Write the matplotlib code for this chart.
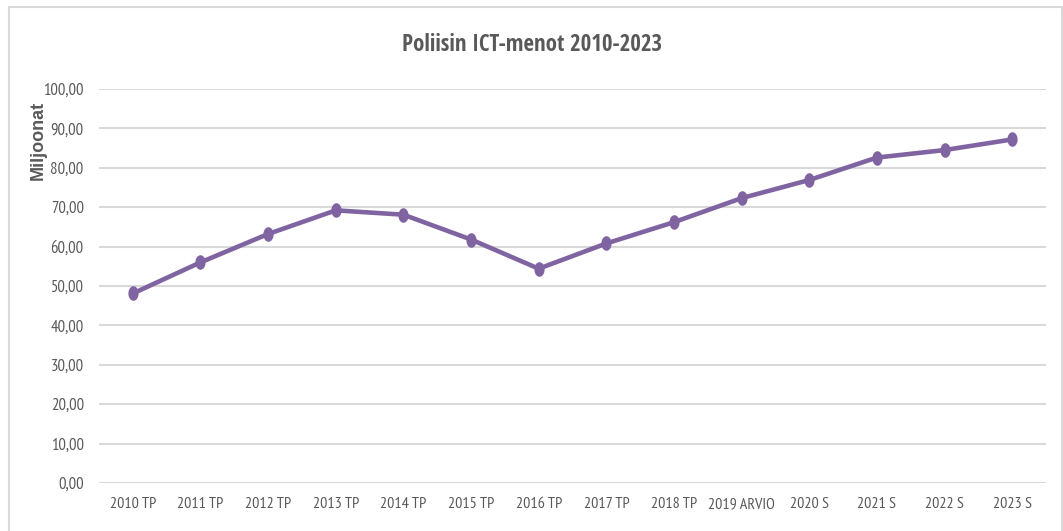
import numpy as np
import matplotlib
matplotlib.use("Agg")
import matplotlib.pyplot as plt
from matplotlib.patches import Rectangle

# Data
vuodet = ["2010 TP", "2011 TP", "2012 TP", "2013 TP", "2014 TP", "2015 TP", "2016 TP",
          "2017 TP", "2018 TP", "2019 ARVIO", "2020 S", "2021 S", "2022 S", "2023 S"]
menot = [48.1, 56.0, 63.2, 69.2, 68.1, 61.8, 54.4, 60.8, 66.2, 72.3, 76.9, 82.6, 84.5, 87.2]
y_ticks = [0, 10, 20, 30, 40, 50, 60, 70, 80, 90, 100]

W, H = 1063, 531
fig = plt.figure(figsize=(W / 100, H / 100), dpi=100)

# outer chart frame
fig.patches.append(Rectangle((9 / W, -0.05), (1062 - 9) / W, 1.05 - 7 / H,
                             transform=fig.transFigure, fill=False,
                             edgecolor="#D9D9D9", linewidth=1.5))

ax = fig.add_axes([99 / W, (H - 483) / H, (1046 - 99) / W, (483 - 89) / H])

teksti = "#595959"
kapea = ["PT Sans Narrow", "DejaVu Sans"]
otsikko = ["Open Sans Condensed", "DejaVu Sans"]

# elliptical marker (tall, like the reference)
t = np.linspace(0, 2 * np.pi, 40)
ellipsi = list(zip(0.7 * np.cos(t), np.sin(t)))

x = np.arange(len(vuodet))
ax.plot(x, menot, color="#8064A2", linewidth=3.3, marker=ellipsi, markersize=10.5,
        markeredgewidth=0, solid_capstyle="round", clip_on=False, zorder=3)

ax.set_xlim(-0.5, len(vuodet) - 0.5)
ax.set_ylim(0, 100)
ax.set_yticks(y_ticks)
ax.set_yticklabels([f"{v:.2f}".replace(".", ",") for v in y_ticks],
                   fontfamily=kapea, fontsize=12, color=teksti)
ax.set_xticks(x)
ax.set_xticklabels(vuodet, fontfamily=kapea, fontsize=11.5, color=teksti)
ax.tick_params(axis="both", length=0)
ax.tick_params(axis="y", pad=11)
ax.tick_params(axis="x", pad=10)

ax.grid(axis="y", color="#D9D9D9", linewidth=1.5)
ax.set_axisbelow(True)
for s in ax.spines.values():
    s.set_visible(False)

fig.text(532 / W, 1 - 45 / H, "Poliisin ICT-menot 2010-2023", ha="center", va="center",
         fontfamily=otsikko, fontweight="bold", fontsize=16.5, color=teksti)
fig.text(38 / W, 1 - 140 / H, "Miljoonat", rotation=90, ha="center", va="center",
         fontfamily=["Liberation Sans", "DejaVu Sans"], fontweight="bold",
         fontsize=13, color=teksti)

fig.savefig("out.png", dpi=100)
